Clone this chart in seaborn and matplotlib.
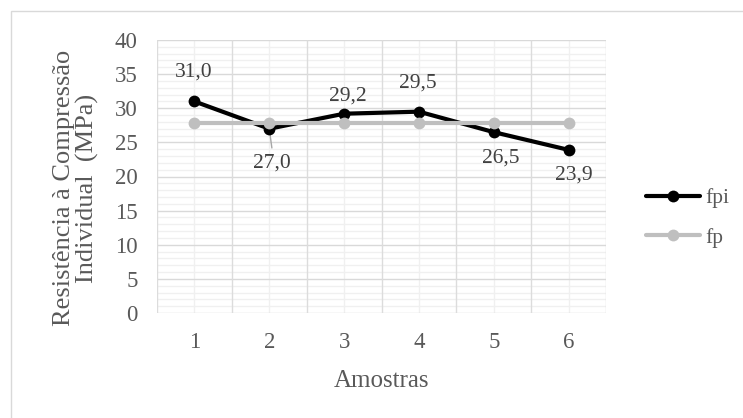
import matplotlib
matplotlib.use("Agg")
import matplotlib.pyplot as plt
from matplotlib.patches import Rectangle
from matplotlib.ticker import MultipleLocator
import seaborn as sns
import pandas as pd

amostras = [1, 2, 3, 4, 5, 6]
fpi = [31.0, 27.0, 29.2, 29.5, 26.5, 23.9]
fp = [27.8, 27.8, 27.8, 27.8, 27.8, 27.8]
labels = ["31,0", "27,0", "29,2", "29,5", "26,5", "23,9"]
label_offsets = [(-1, 29), (3, -34), (4, 18), (-1, 29), (7, -26), (5, -25)]

sns.set_theme(style="white")
plt.rcParams['font.family'] = ['Liberation Serif', 'DejaVu Serif']
TXT = "#595959"

df = pd.DataFrame({"Amostras": amostras, "fpi": fpi, "fp": fp})

fig = plt.figure(figsize=(7.43, 4.18), dpi=100)
ax = fig.add_axes([157/743, 1-313/418, (606-157)/743, (313-40)/418])

sns.lineplot(data=df, x="Amostras", y="fpi", ax=ax, color="black", lw=3,
             marker="o", markersize=8.5, markeredgewidth=0, label="fpi", zorder=3)
sns.lineplot(data=df, x="Amostras", y="fp", ax=ax, color="#bfbfbf", lw=3,
             marker="o", markersize=8.5, markeredgewidth=0, label="fp", zorder=4)

ax.set_xlim(0.5, 6.5)
ax.set_ylim(0, 40)
ax.set_xticks(amostras)
ax.yaxis.set_major_locator(MultipleLocator(5))

# grid
ax.grid(False)
for yv in range(0, 41):
    if yv % 5 == 0:
        ax.axhline(yv, color="#d9d9d9", lw=1.0, zorder=1)
    else:
        ax.axhline(yv, color="#f0f0f0", lw=1.0, zorder=0.5)
for xv in [0.5 + i for i in range(7)]:
    ax.axvline(xv, color="#dcdcdc", lw=1.0, zorder=1)
for xv in amostras:
    ax.axvline(xv, color="#f0f0f0", lw=1.0, zorder=0.5)

for s in ax.spines.values():
    s.set_visible(False)
ax.tick_params(axis="both", which="both", length=0, labelsize=16.5, colors=TXT)
ax.tick_params(axis="y", pad=14)
ax.tick_params(axis="x", pad=14)

ax.set_xlabel("Amostras", fontsize=18, color=TXT, va="center")
ax.xaxis.set_label_coords(0.5, (313-381)/273)
ax.set_ylabel("Resistência à Compressão\nIndividual  (MPa)", fontsize=19, color=TXT,
              linespacing=1.05, va="center", ha="center")
ax.yaxis.set_label_coords((76-157)/449, (313-188)/273)

for i, (xv, yv) in enumerate(zip(amostras, fpi)):
    dx, dy = label_offsets[i]
    ax.annotate(labels[i], (xv, yv), xytext=(dx, dy), textcoords="offset pixels",
                ha="center", va="center", fontsize=15.5, color="#404040", zorder=5)
# leader line for 27,0
ax.annotate("", (amostras[1], fpi[1]), xytext=(3, -22), textcoords="offset pixels",
            arrowprops=dict(arrowstyle="-", color="#a6a6a6", lw=1), zorder=2)

leg = ax.legend(loc="center left", bbox_to_anchor=(646/743, 1-218/418),
                bbox_transform=fig.transFigure, frameon=False, borderaxespad=0,
                borderpad=0, fontsize=15.5, handlelength=2.5, labelspacing=0.9,
                handletextpad=0.25)
for t in leg.get_texts():
    t.set_color(TXT)

fig.patches.append(Rectangle((11/743, -0.1), 1.2, 1 - 11/418 + 0.1, transform=fig.transFigure,
                             fill=False, edgecolor="#d9d9d9", lw=1, zorder=0))

fig.savefig("out.png", dpi=100)
